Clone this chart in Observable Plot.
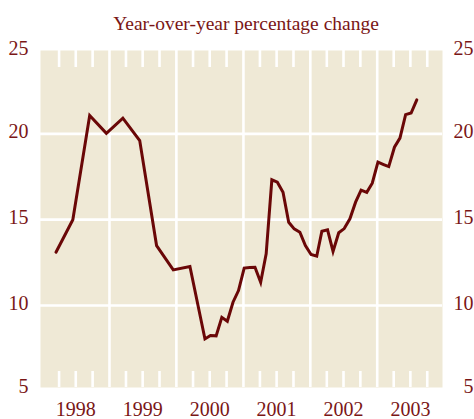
<!DOCTYPE html>
<html>
<head>
<meta charset="utf-8">
<script src="https://cdn.jsdelivr.net/npm/d3@7"></script>
<script src="https://cdn.jsdelivr.net/npm/@observablehq/plot@0.6"></script>
<style>
  html, body { margin: 0; padding: 0; background: #ffffff; }
  #chart svg { display: block; }
</style>
</head>
<body>
<div id="chart"></div>
<script>
// ---- Data ----
const title = "Year-over-year percentage change";

const dates = [
  "1998-03-15", "1998-06-15", "1998-09-15", "1998-12-15",
  "1999-03-15", "1999-06-15", "1999-09-15", "1999-12-15",
  "2000-03-15", "2000-06-05", "2000-07-05", "2000-08-05",
  "2000-09-05", "2000-10-05", "2000-11-05", "2000-12-05",
  "2001-01-05", "2001-02-05", "2001-03-05", "2001-04-05",
  "2001-05-05", "2001-06-05", "2001-07-05", "2001-08-05",
  "2001-09-05", "2001-10-05", "2001-11-05", "2001-12-05",
  "2002-01-05", "2002-02-05", "2002-03-05", "2002-04-05",
  "2002-05-05", "2002-06-05", "2002-07-05", "2002-08-05",
  "2002-09-05", "2002-10-05", "2002-11-05", "2002-12-05",
  "2003-01-05", "2003-02-05", "2003-03-05", "2003-04-05",
  "2003-05-05", "2003-06-05", "2003-07-05", "2003-08-05"
];

const values = [
  13.1, 15.0, 21.07, 20.03,
  20.91, 19.61, 13.49, 12.07,
  12.27, 8.05, 8.25, 8.23,
  9.31, 9.08, 10.19, 10.87,
  12.18, 12.21, 12.23, 11.35,
  13.01, 17.32, 17.18, 16.6,
  14.85, 14.46, 14.27, 13.49,
  12.97, 12.87, 14.32, 14.41,
  13.15, 14.24, 14.48, 15.05,
  16.02, 16.72, 16.59, 17.12,
  18.35, 18.21, 18.09, 19.22,
  19.75, 21.12, 21.21, 21.98
];

const yearLabels = ["1998", "1999", "2000", "2001", "2002", "2003"];
const yGridValues = [10, 15, 20];
const yTopTick = [25];
const yBottomTick = [5];

// ---- Derived tables ----
const data = dates.map((d, i) => ({date: new Date(d), value: values[i]}));
const start = new Date("1998-01-01");
const end = new Date("2004-01-01");
const yearStarts = d3.utcYear.range(new Date("1999-01-01"), end);
const quarterTicks = d3.utcMonth.every(3).range(start, end).filter(d => d.getUTCMonth() !== 0);
const labelDates = yearLabels.map(y => new Date(`${y}-07-01`));

const textColor = "#7a1616";
const lineColor = "#6a0707";
const bg = "#efe9d6";
const font = "'Liberation Serif', 'Times New Roman', serif";

const W = 474, H = 419, mT = 50, mB = 32, mL = 40, mR = 32;
const frameH = H - mT - mB;

const axisStyle = {tickSize: 0, fontSize: 20, fill: textColor, label: null};

const chart = Plot.plot({
  width: W,
  height: H,
  marginTop: mT,
  marginBottom: mB,
  marginLeft: mL,
  marginRight: mR,
  style: {fontFamily: font, background: "#ffffff", overflow: "visible"},
  x: {type: "utc", domain: [start, end], range: [42.1, 443.6], label: null},
  y: {domain: [5, 25], range: [390.8, 47.5], label: null},
  marks: [
    Plot.frame({fill: bg, stroke: null}),
    Plot.ruleY(yGridValues, {stroke: "#ffffff", strokeWidth: 2.6}),
    Plot.ruleX(yearStarts, {stroke: "#ffffff", strokeWidth: 2.6}),
    Plot.ruleX(quarterTicks, {stroke: "#ffffff", strokeWidth: 2.6, insetBottom: frameH - 17}),
    Plot.ruleX(quarterTicks, {stroke: "#ffffff", strokeWidth: 2.6, insetTop: frameH - 16}),
    Plot.line(data, {x: "date", y: "value", stroke: lineColor, strokeWidth: 3, strokeLinejoin: "miter", strokeMiterlimit: 4}),
    Plot.axisX(labelDates, {...axisStyle, anchor: "bottom", tickPadding: 14.5, tickFormat: d3.utcFormat("%Y")}),
    Plot.axisY(yGridValues, {...axisStyle, anchor: "left", tickPadding: 12, dy: -2}),
    Plot.axisY(yTopTick, {...axisStyle, anchor: "left", tickPadding: 12, dy: 0.5}),
    Plot.axisY(yBottomTick, {...axisStyle, anchor: "left", tickPadding: 12, dy: -5}),
    Plot.axisY(yGridValues, {...axisStyle, anchor: "right", textAnchor: "end", tickPadding: 31, dy: -2}),
    Plot.axisY(yTopTick, {...axisStyle, anchor: "right", textAnchor: "end", tickPadding: 31, dy: 0.5}),
    Plot.axisY(yBottomTick, {...axisStyle, anchor: "right", textAnchor: "end", tickPadding: 31, dy: -5}),
    Plot.text([title], {frameAnchor: "top", lineAnchor: "middle", dy: -26.7, dx: 4.5, fontSize: 19.5, fill: textColor})
  ]
});

document.getElementById("chart").appendChild(chart);
</script>
</body>
</html>
